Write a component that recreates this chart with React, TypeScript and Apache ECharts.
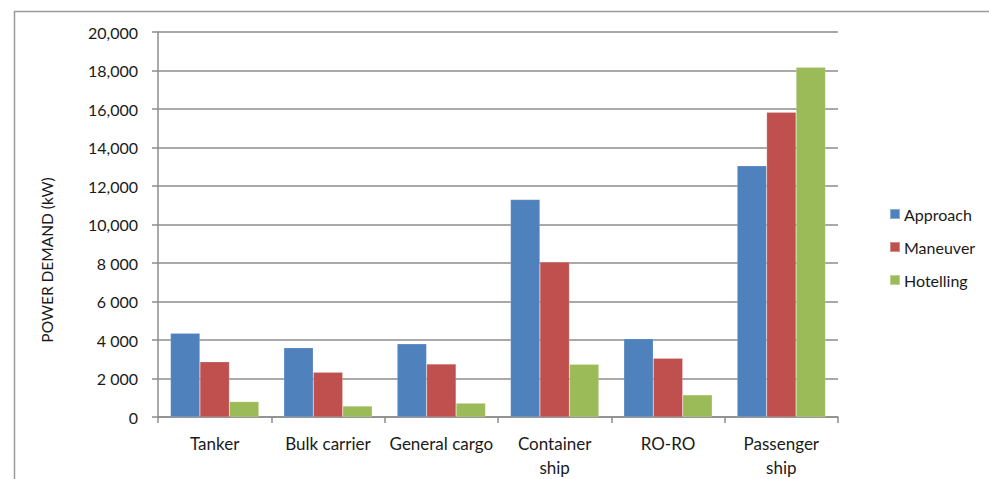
import React, { useEffect, useRef } from "react";
import * as echarts from "echarts";

const categories = ["Tanker", "Bulk carrier", "General cargo", "Container\nship", "RO-RO", "Passenger\nship"];
const approach = [4350, 3600, 3800, 11300, 4070, 13050];
const maneuver = [2870, 2330, 2750, 8050, 3050, 15830];
const hotelling = [800, 570, 720, 2740, 1150, 18170];
const seriesNames = ["Approach", "Maneuver", "Hotelling"];
const colors = ["#4F81BD", "#C0504D", "#9BBB59"];

const FONT = "Lato, 'Open Sans', sans-serif";

function formatTick(v: number): string {
  const s = String(v);
  if (v >= 10000) return s.replace(/\B(?=(\d{3})+(?!\d))/g, ",");
  return s.replace(/\B(?=(\d{3})+(?!\d))/g, " ");
}

export default function App() {
  const ref = useRef<HTMLDivElement>(null);
  useEffect(() => {
    if (!ref.current) return;
    const chart = echarts.init(ref.current, undefined, { renderer: "svg" });
    const data = [approach, maneuver, hotelling];
    chart.setOption({
      animation: false,
      backgroundColor: "#ffffff",
      grid: { left: 158, right: 151, top: 32, bottom: 62, containLabel: false },
      legend: {
        orient: "vertical",
        left: 884,
        top: 201,
        itemWidth: 10,
        itemHeight: 10,
        itemGap: 17,
        icon: "rect",
        textStyle: { fontFamily: FONT, fontSize: 16, color: "#1a1a1a", padding: [0, 0, 0, -1] },
        data: seriesNames,
      },
      xAxis: {
        type: "category",
        data: categories,
        axisLine: { lineStyle: { color: "#8c8c8c", width: 1.5 } },
        axisTick: { show: true, length: 6, lineStyle: { color: "#8c8c8c", width: 1.5 } },
        axisLabel: {
          interval: 0,
          fontFamily: FONT,
          fontSize: 17,
          color: "#1a1a1a",
          margin: 14,
          lineHeight: 24,
        },
      },
      yAxis: {
        type: "value",
        min: 0,
        max: 20000,
        interval: 2000,
        axisLine: { show: true, lineStyle: { color: "#8c8c8c", width: 1.5 } },
        axisTick: { show: true, length: 6, lineStyle: { color: "#8c8c8c", width: 1.5 } },
        splitLine: { lineStyle: { color: "#8c8c8c", width: 1.5 } },
        axisLabel: { fontFamily: FONT, fontSize: 16, color: "#1a1a1a", margin: 20, formatter: formatTick },
      },
      series: seriesNames.map((name, i) => ({
        name,
        type: "bar",
        data: data[i],
        barGap: "0%",
        barCategoryGap: "22%",
        itemStyle: { color: colors[i], borderColor: "rgba(255,255,255,0.35)", borderWidth: 0.5 },
      })),
      graphic: [
        { type: "line", shape: { x1: 14, y1: 11.5, x2: 989, y2: 11.5 }, style: { stroke: "#9a9a9a", lineWidth: 1.5 } },
        { type: "line", shape: { x1: 14.5, y1: 11, x2: 14.5, y2: 479 }, style: { stroke: "#9a9a9a", lineWidth: 1.5 } },
        {
          type: "text",
          x: 47,
          y: 260,
          rotation: Math.PI / 2,
          style: {
            text: "POWER DEMAND (kW)",
            fontFamily: FONT,
            fontSize: 15.5,
            fill: "#1a1a1a",
            align: "center",
            verticalAlign: "middle",
          },
        },
      ],
    });
    return () => chart.dispose();
  }, []);
  return <div ref={ref} style={{ width: 989, height: 479, position: "absolute", left: 0, top: 0 }} />;
}
